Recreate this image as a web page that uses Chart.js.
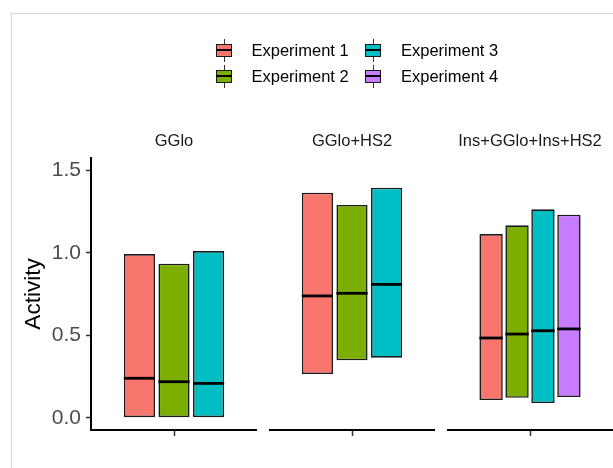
<!DOCTYPE html>
<html><head><meta charset="utf-8">
<script src="https://cdn.jsdelivr.net/npm/chart.js@4/dist/chart.umd.min.js"></script>
<style>
html,body{margin:0;padding:0;background:#fff;}
#wrap{position:relative;width:613px;height:468px;overflow:hidden;background:#fff;font-family:"Liberation Sans",Arial,sans-serif;}
#frame{position:absolute;left:11px;top:13px;width:800px;height:800px;border-left:1px solid #d6d6d6;border-top:1px solid #d6d6d6;}
canvas{position:absolute;top:0;}
.key{position:absolute;width:16px;height:13px;}
.whisk{position:absolute;left:7.5px;top:-5px;width:1.2px;height:23px;background:#333;}
.box{position:absolute;left:0;top:0;width:16px;height:13px;box-sizing:border-box;border:1.5px solid #1a1a1a;}
.med{position:absolute;left:0;top:5.5px;width:16px;height:2px;background:#000;}
.lab{position:absolute;font-size:16.5px;color:#000;line-height:20px;white-space:nowrap;}
</style>
</head><body>
<div id="wrap"><div id="frame"></div></div>
<script>
// ---- data ----
const panels = ['GGlo', 'GGlo+HS2', 'Ins+GGlo+Ins+HS2'];
const experiments = ['Experiment 1', 'Experiment 2', 'Experiment 3', 'Experiment 4'];
const colors = ['#F8766D', '#7CAE00', '#00BFC4', '#C77CFF'];
// lower / upper / median per experiment, one value per panel (null = absent)
const exp1Lower  = [0.00, 0.265, 0.107];
const exp1Upper  = [0.992, 1.364, 1.113];
const exp1Median = [0.239, 0.738, 0.483];
const exp2Lower  = [0.00, 0.348, 0.121];
const exp2Upper  = [0.933, 1.289, 1.166];
const exp2Median = [0.218, 0.754, 0.507];
const exp3Lower  = [0.00, 0.364, 0.089];
const exp3Upper  = [1.010, 1.394, 1.263];
const exp3Median = [0.208, 0.808, 0.527];
const exp4Lower  = [null, null, 0.125];
const exp4Upper  = [null, null, 1.230];
const exp4Median = [null, null, 0.538];
const yTicks = [0, 0.5, 1.0, 1.5];
const yTickLabels = ['0.0', '0.5', '1.0', '1.5'];
const yTitle = 'Activity';

const lowers = [exp1Lower, exp2Lower, exp3Lower, exp4Lower];
const uppers = [exp1Upper, exp2Upper, exp3Upper, exp4Upper];
const medians = [exp1Median, exp2Median, exp3Median, exp4Median];

const FONT = '"Liberation Sans", Arial, sans-serif';
const wrap = document.getElementById('wrap');
const panelBoxes = [{left:0, width:257}, {left:269, width:166}, {left:447, width:166}];

const medianPlugin = {
  id: 'medianLines',
  afterDatasetsDraw(chart) {
    const ctx = chart.ctx, ys = chart.scales.y;
    chart.data.datasets.forEach((ds, di) => {
      const meta = chart.getDatasetMeta(di);
      meta.data.forEach((bar, i) => {
        const m = ds.medians[i];
        if (m == null) return;
        const y = ys.getPixelForValue(m);
        ctx.save();
        ctx.strokeStyle = '#000';
        ctx.lineWidth = 2.8;
        ctx.beginPath();
        ctx.moveTo(bar.x - bar.width / 2, y);
        ctx.lineTo(bar.x + bar.width / 2, y);
        ctx.stroke();
        ctx.restore();
      });
    });
  }
};

const stripPlugin = {
  id: 'strip',
  afterDraw(chart, args, opts) {
    const ctx = chart.ctx, a = chart.chartArea;
    ctx.save();
    ctx.fillStyle = '#1a1a1a';
    ctx.font = '16.5px ' + FONT;
    ctx.textAlign = 'center';
    ctx.textBaseline = 'middle';
    ctx.fillText(opts.text, (a.left + a.right) / 2, 141);
    ctx.restore();
  }
};

panels.forEach((p, pi) => {
  const cv = document.createElement('canvas');
  cv.width = panelBoxes[pi].width; cv.height = 468;
  cv.style.left = panelBoxes[pi].left + 'px';
  cv.style.width = panelBoxes[pi].width + 'px'; cv.style.height = '468px';
  wrap.appendChild(cv);
  const datasets = [];
  experiments.forEach((e, ei) => {
    if (lowers[ei][pi] == null) return;
    datasets.push({
      label: e,
      data: [[lowers[ei][pi], uppers[ei][pi]]],
      medians: [medians[ei][pi]],
      backgroundColor: colors[ei],
      borderColor: '#1a1a1a',
      borderWidth: 1.6,
      borderSkipped: false,
      categoryPercentage: 0.625,
      barPercentage: 0.9
    });
  });
  const yScale = {
    display: pi === 0,
    min: -0.0745, max: 1.574,
    afterBuildTicks(s) { s.ticks = yTicks.map(v => ({ value: v })); },
    grid: { display: true, drawOnChartArea: false, tickLength: 5, tickColor: '#333', tickWidth: 1.5 },
    border: { display: true, color: '#000', width: 2 },
    ticks: { color: '#4d4d4d', padding: 5, font: { family: FONT, size: 21 },
      callback: (v) => yTickLabels[yTicks.indexOf(v)] },
    title: { display: true, text: yTitle, color: '#000', font: { family: FONT, size: 22.5 }, padding: { top: 20, bottom: 0 } }
  };
  if (pi === 0) yScale.afterFit = (s) => { s.width = 91; };
  new Chart(cv, {
    type: 'bar',
    data: { labels: [''], datasets },
    plugins: [medianPlugin, stripPlugin],
    options: {
      responsive: false, animation: false, devicePixelRatio: 1,
      layout: { padding: { top: 158, left: 0, right: 0, bottom: 0 } },
      plugins: {
        legend: { display: false }, tooltip: { enabled: false },
        title: { display: false },
        strip: { text: p }
      },
      scales: {
        x: {
          offset: true,
          grid: { display: true, drawOnChartArea: false, offset: false, tickLength: 6, tickColor: '#333', tickWidth: 1.5 },
          border: { display: true, color: '#000', width: 2 },
          ticks: { display: true },
          afterFit(s) { s.height = 38; }
        },
        y: yScale
      }
    }
  });
});

// legend (2 columns, filled by column)
const colKeyX = [216, 365], colTextX = [251.5, 401], rowY = [50, 76];
experiments.forEach((e, ei) => {
  const c = Math.floor(ei / 2), r = ei % 2;
  const k = document.createElement('div');
  k.className = 'key';
  k.style.left = colKeyX[c] + 'px'; k.style.top = (rowY[r] - 6.5) + 'px';
  k.innerHTML = '<div class="whisk"></div><div class="box" style="background:' + colors[ei] + '"></div><div class="med"></div>';
  wrap.appendChild(k);
  const t = document.createElement('div');
  t.className = 'lab';
  t.textContent = e;
  t.style.left = colTextX[c] + 'px'; t.style.top = (rowY[r] - 10) + 'px';
  wrap.appendChild(t);
});
</script>
</body></html>
